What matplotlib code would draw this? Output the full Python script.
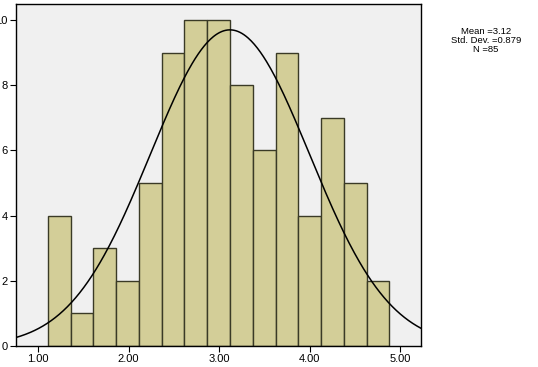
import numpy as np
import matplotlib
matplotlib.use("Agg")
import matplotlib.pyplot as plt

plt.rcParams['font.family'] = ['Liberation Sans', 'DejaVu Sans']

# histogram data
counts = [4, 1, 3, 2, 5, 9, 10, 10, 8, 6, 9, 4, 7, 5, 2]
data_min = 1.11
data_max = 4.88
mean = 3.12
std = 0.879
n = 85
xticks = [1.0, 2.0, 3.0, 4.0, 5.0]
yticks = [0, 2, 4, 6, 8, 10]

edges = np.linspace(data_min, data_max, len(counts) + 1)
binw = edges[1] - edges[0]

fig = plt.figure(figsize=(5.38, 3.67), dpi=100)
ax = fig.add_axes([0.0297, 0.0572, 0.7528, 0.932])
ax.set_facecolor('#f0f0f0')

ax.bar(edges[:-1], counts, width=binw, align='edge', color='#d3ce98',
       edgecolor='#3a3a26', linewidth=1.0, zorder=2)

xs = np.linspace(0.75, 5.25, 400)
curve = n * binw / (std * np.sqrt(2 * np.pi)) * np.exp(-0.5 * ((xs - mean) / std) ** 2)
ax.plot(xs, curve, color='black', linewidth=1.1, zorder=3)

ax.set_xlim(0.757, 5.23)
ax.set_ylim(0, 10.49)
ax.set_xticks(xticks)
ax.set_xticklabels(['%.2f' % v for v in xticks])
ax.set_yticks(yticks)
ax.tick_params(direction='out', length=4, width=0.8, labelsize=8, pad=2, colors='black')
for s in ax.spines.values():
    s.set_color('black')
    s.set_linewidth(1.0)

fig.text(0.903, 0.891, 'Mean =3.12\nStd. Dev. =0.879\nN =85', ha='center', va='center',
         fontsize=6.8, linespacing=1.0)

fig.savefig('out.png', dpi=100)
plt.close()
